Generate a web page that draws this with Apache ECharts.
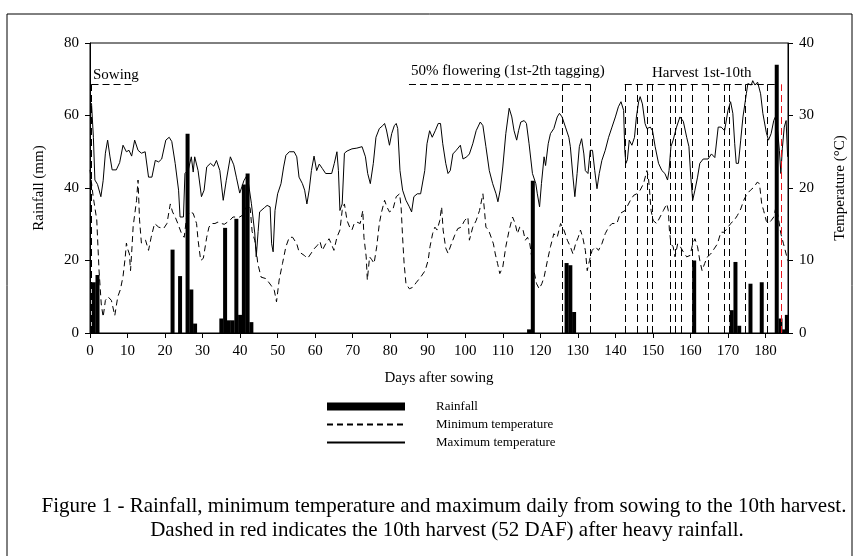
<!DOCTYPE html>
<html>
<head>
<meta charset="utf-8">
<script src="https://cdn.jsdelivr.net/npm/echarts@6/dist/echarts.min.js"></script>
<style>
  html, body { margin: 0; padding: 0; background: #fff; }
  #main { width: 856px; height: 556px; }
</style>
</head>
<body>
<div id="main"></div>
<script>
var serif = 'Liberation Serif';

// rainfall bars (day after sowing, mm)
var rainDays = [1, 2, 22, 24, 26, 27, 28, 35, 36, 37, 38, 39, 40, 41, 42, 43,
  117, 118, 127, 128, 129, 161, 171, 172, 173, 176, 179, 183, 184, 185, 185.7];
var rainMm = [14, 16, 23, 15.7, 55, 12, 2.6, 4, 29, 3.5, 3.5, 31.5, 5, 41, 44, 3,
  1, 42, 19.3, 18.7, 5.8, 20, 6.3, 19.6, 2, 13.6, 14, 74, 4, 1, 5];

// maximum temperature (day, °C)
var maxDays = [0.4, 0.9, 1.3, 2, 2.9, 3.5, 4.1, 4.7, 5.3, 5.9, 7, 7.9, 8.8, 9.7, 10.4, 11.1, 11.9, 12.8, 13.7, 14.7,
  15.6, 16.5, 17.4, 18.3, 19.1, 20.2, 21.1, 21.8, 22.7, 23.6, 24, 24.9, 25.3, 26.2, 27, 27.5, 27.9, 28.8, 29.7, 30.4,
  31.1, 32.1, 33, 33.7, 34.6, 35.5, 36.3, 37.4, 38.3, 39, 39.9, 40.5, 41, 41.9, 42.4, 43, 43.9, 44.3, 44.8, 45.2,
  46.5, 47.2, 48, 48.4, 48.8, 49.3, 50, 50.9, 51.6, 52.2, 53.1, 54.4, 55.1, 55.7, 56.6, 57.2, 57.8, 58.4, 59, 59.7,
  60.4, 61.1, 61.9, 62.8, 64.4, 65.1, 65.8, 66.2, 66.6, 67.2, 67.8, 68.5, 69.8, 71.1, 72.5, 73, 73.4, 74, 74.7, 75.1,
  75.5, 76.2, 77.1, 78, 78.5, 79, 79.8, 80.4, 81.1, 81.6, 82, 82.6, 83.3, 84.2, 85.1, 85.7, 86.3, 87.2, 88.1, 88.5,
  89.2, 89.8, 90.5, 91.2, 92, 92.8, 93.4, 94, 94.8, 95.4, 96, 96.7, 97.6, 98.7, 99.4, 100.4, 101.1, 102, 102.9, 104,
  104.7, 105.5, 106.4, 107.3, 108.2, 108.7, 109.3, 110, 110.8, 111.7, 112.4, 113, 113.7, 114.2, 114.8, 115.7, 116.3, 117, 117.9, 118.8,
  119.2, 119.8, 120.3, 121, 121.4, 122.1, 122.7, 123.6, 124.5, 125.1, 125.8, 126.7, 127.6, 128, 128.7, 129.2, 129.8, 130.4, 131, 131.6,
  132, 132.7, 133.3, 133.9, 134.5, 135.1, 135.7, 136.4, 137.3, 138.2, 139.1, 140, 140.8, 141.5, 142.2, 142.5, 142.8, 143.2, 143.7, 144.4,
  145.1, 145.6, 146.2, 146.6, 147.2, 147.9, 148.4, 149.3, 149.9, 150.6, 151.5, 152.4, 153.2, 153.9, 154.3, 154.8, 155.4, 156.3, 157.2, 158.1,
  159, 159.6, 160.1, 160.6, 161.2, 161.9, 162.5, 163.4, 164.7, 165.6, 166.5, 167.4, 168.2, 169.1, 170, 170.7, 171.3, 171.8, 172.2, 172.8,
  173.4, 174, 174.9, 175.3, 176.2, 176.6, 177.2, 177.9, 178.7, 179.3, 180.2, 180.8, 181.5, 182.2, 182.8, 183.3, 183.7, 184.1, 184.5, 185,
  185.5, 185.9];
var maxTemp = [31.7, 27, 21.1, 20.5, 18.8, 21, 24.8, 26.6, 24.4, 22.5, 22.5, 23.5, 25.9, 25, 25.2, 24.4, 26.6, 25.2, 24.8, 25,
  21.5, 21.5, 23.8, 23.6, 24, 26.6, 27, 26.4, 23.4, 19.7, 16, 16, 22, 22.5, 24.3, 22.2, 24.3, 22.4, 18.8, 19.7,
  22.9, 23.4, 23, 23.8, 22.4, 18.3, 21, 24.3, 23.2, 21.5, 19.3, 20.2, 21, 21.8, 22, 17.9, 13.8, 10.5, 14, 16.7,
  17.3, 17.6, 17.4, 12.3, 11.2, 16.9, 19.2, 20.6, 22.9, 24.5, 25, 25, 24.3, 21.5, 20.6, 19.7, 17.8, 19.7, 22.4, 24.4,
  22.4, 23.3, 22.7, 22, 22, 23.4, 25, 22.4, 16.9, 17.8, 24.8, 25.1, 25.4, 25.5, 25.7, 25.9, 24.3, 22, 20.6, 20.8,
  23.4, 27, 28.2, 28.6, 28.9, 28, 25.9, 27.5, 28.6, 28.9, 28.2, 22.4, 19.7, 18.3, 17.4, 16.7, 18.8, 19.2, 19.2, 19.4,
  22.4, 26.1, 27.9, 27, 27.9, 28.9, 28.9, 26.1, 23.4, 22, 22.4, 24.7, 25.2, 25.9, 24, 24.3, 24.7, 26.1, 27.9, 29.1,
  28.6, 25.7, 22.4, 20.6, 19.2, 18.1, 19.7, 22.9, 27.5, 31, 29.8, 27.9, 26.6, 27.9, 29.1, 29.3, 28.9, 26.1, 22, 20.6,
  19.2, 17.4, 20.6, 24.3, 23.1, 26.1, 27.5, 28.2, 29.8, 30.3, 29.8, 28.4, 27, 25.7, 21.5, 18.8, 22, 25.7, 26.8, 24.7,
  22.4, 22, 25.2, 25.2, 22.4, 19.9, 22, 23.8, 25.2, 27, 28.4, 29.8, 31.2, 31.9, 30.7, 25.2, 23.4, 23.9, 26.6, 25.9,
  27, 29.8, 31.9, 32.6, 31.6, 28.9, 28.2, 28.4, 27.9, 25.7, 23.4, 22.4, 22, 21.1, 22.4, 25.7, 26.6, 28.4, 29.8, 29.2,
  27, 25.7, 21.5, 18.3, 19.7, 21.5, 23.4, 24, 24, 24.7, 24.2, 28.4, 28.4, 27.9, 30.7, 31.9, 30.3, 26.1, 23.4, 23.4,
  26.6, 29.8, 33, 34.4, 34.2, 34.8, 34.2, 34.6, 33, 30.3, 27.7, 26.6, 27.5, 29.3, 30, 27.5, 25.2, 22, 25.5, 28.4,
  29.3, 24.3];

// minimum temperature (day, °C)
var minDays = [0, 0.8, 1.8, 2.4, 3, 3.5, 4.1, 4.8, 5.7, 6.6, 7.4, 8.1, 8.8, 9.4, 9.7, 10.1, 10.5, 10.8, 11.2, 11.5,
  12.4, 12.8, 13.2, 13.7, 14, 14.8, 15.6, 16.3, 17.2, 18.3, 19.6, 20.5, 21.4, 22, 22.7, 23.4, 24.4, 25.1, 25.7, 26.6,
  27.5, 28.4, 28.8, 29.5, 30.2, 31.1, 31.7, 32.4, 33.3, 34.1, 35, 35.8, 37.2, 38.1, 39, 39.9, 40.5, 41.2, 42.1, 42.7,
  43.2, 43.9, 44.3, 44.7, 45.6, 46.9, 48.2, 49.1, 49.7, 50.4, 51.3, 52.2, 53.1, 54, 55.1, 55.7, 57.1, 58, 58.8, 59.7,
  60.6, 61.3, 61.9, 62.8, 63.7, 64.3, 65, 65.8, 66.6, 67.2, 67.8, 68.5, 69.2, 69.8, 70.4, 71.1, 72, 72.7, 73, 73.6,
  73.9, 74.5, 75.1, 75.7, 76.4, 77.1, 77.7, 78.5, 79.1, 79.8, 80.7, 81.6, 82.5, 82.9, 83.3, 83.7, 84.2, 85.1, 86, 87,
  88.1, 89.3, 90.1, 90.6, 91.3, 91.9, 92.5, 93.2, 93.7, 94.1, 94.8, 95.4, 96.3, 97.2, 98, 98.9, 99.8, 100.7, 101.1, 102,
  102.9, 103.8, 104.7, 105.1, 105.5, 106.2, 106.9, 107.5, 108, 108.6, 109.2, 110, 110.8, 111.7, 112.6, 113.3, 113.9, 114.5, 115.4, 116,
  116.6, 117.2, 117.7, 118.3, 119, 119.7, 120.4, 121, 121.9, 122.7, 123.6, 124.5, 125.4, 126.3, 127.2, 128, 128.7, 129.4, 130.1, 130.7,
  131.3, 132, 132.5, 133.1, 133.8, 134.7, 135.5, 136.4, 137.3, 138.2, 139.1, 140.4, 141.3, 142.6, 144, 144.9, 145.7, 146.6, 147.5, 148.4,
  148.8, 149.1, 149.5, 150.1, 151, 151.9, 152.8, 153.7, 154.1, 154.4, 154.8, 155.4, 155.9, 156.6, 157.3, 158.1, 159, 159.9, 160.6, 161.2,
  161.9, 162.5, 163.1, 163.8, 164.5, 165.4, 166.3, 167.2, 168.1, 168.9, 169.8, 170.7, 171.6, 172.5, 173.4, 174.2, 175.1, 176, 176.9, 177.8,
  178.4, 179, 179.5, 180.2, 180.8, 181.5, 182.2, 182.8, 183.4, 184.1, 184.8, 185.5, 185.9];
var minTemp = [22.5, 19, 15.6, 8.7, 4, 2.2, 4.5, 5, 4.5, 2.4, 5, 6, 7.8, 10.5, 12.4, 11.5, 10.9, 8.6, 11.9, 14.7,
  18.3, 21.1, 15.6, 12.4, 12.3, 12.8, 11.4, 13.2, 15.1, 14.6, 14.4, 15.1, 17.8, 16.7, 16, 15.1, 13.7, 13.2, 15.8, 16.7,
  16.5, 15.1, 12.8, 10, 10.3, 13.2, 14.6, 15.1, 15.1, 15.3, 15.1, 15, 15.5, 16, 16, 16, 16.2, 16.9, 17.8, 17.2,
  14, 12.8, 11.5, 9.6, 7.7, 7.5, 6.6, 5.9, 4.3, 7.3, 9.6, 11.9, 13.2, 13.2, 12.3, 11.2, 10.7, 10.3, 10.9, 11.6,
  12.1, 12.6, 11.4, 12.3, 13, 12.3, 11.4, 13.2, 14.2, 16.9, 17.8, 15.5, 14.6, 14.2, 15.1, 15.3, 15.1, 16.9, 13.2, 10.5,
  7.3, 10.5, 10.1, 9.6, 11.9, 15.1, 16.7, 18.3, 17.4, 16.7, 17, 18.8, 19.2, 17.4, 13.2, 9.6, 6.8, 6.1, 6.3, 7,
  7.7, 8.6, 10, 11.9, 13.7, 14.6, 14.2, 15.5, 17.4, 14.2, 11.7, 11, 12.3, 13.5, 14.4, 14.6, 15.5, 16, 12.8, 14.6,
  15.5, 16.9, 19.2, 17, 14.6, 14.2, 13.2, 12.3, 10.9, 9.6, 8.2, 9.1, 11.9, 14.2, 16, 15.1, 13.7, 14.6, 14.2, 12.8,
  13.2, 12.3, 10.5, 8.6, 6.8, 6.1, 6.8, 7.7, 10, 11.9, 13.7, 13.2, 15.1, 14.2, 12.8, 11.9, 10.9, 12.3, 13.2, 14.2,
  13.2, 11.4, 8.6, 10, 11.4, 11.9, 11.4, 12.3, 13.7, 14.6, 15.1, 15.1, 16.5, 16.9, 18.3, 19, 19.2, 19.7, 20.6, 22.4,
  21.5, 19.7, 16.9, 15.5, 15.1, 16, 16.9, 17.8, 16.9, 14.2, 12.3, 11.9, 10.5, 12.3, 11.9, 11.2, 10.5, 10.7, 12.3, 13,
  11.9, 10, 8.6, 9.6, 10.5, 10.9, 11.6, 12.3, 13.9, 13.9, 14.4, 15.1, 15.5, 16.2, 17.1, 18.3, 19.2, 19.7, 20.1, 20.8,
  20.6, 17.8, 16.9, 15.5, 15.1, 15.5, 16, 17.4, 16, 13.7, 12.3, 10.9, 10];

// stage markers (days after sowing)
var sowingDays = [0.4];
var floweringDays = [125.9, 133.4];
var harvestDays = [142.5, 145.8, 148.4, 149.7, 154.6, 155.9, 157.5, 160.6, 164.7, 169.1, 170.4, 174.6, 180.6];
var heavyRainHarvestDay = 184.1;
var bracketTemp = 34.3;
var sowingSpan = [0.4, 11.6];
var floweringSpan = [85, 133.4];
var harvestSpan = [142.5, 183.2];

function pairs(xs, ys) {
  return xs.map(function (x, i) { return [x, ys[i]]; });
}

var markLines = [];
sowingDays.concat(floweringDays, harvestDays).forEach(function (d) {
  markLines.push([{ coord: [d, 0] }, { coord: [d, bracketTemp] }]);
});
[sowingSpan, floweringSpan, harvestSpan].forEach(function (s) {
  markLines.push([{ coord: [s[0], bracketTemp] }, { coord: [s[1], bracketTemp] }]);
});
markLines.push([{ coord: [heavyRainHarvestDay, 0], lineStyle: { color: '#e8141b' } },
  { coord: [heavyRainHarvestDay, bracketTemp] }]);

var txt = { fontFamily: serif, color: '#000' };
var nameTxt = { fontFamily: serif, fontSize: 15, color: '#000' };

var myChart = echarts.init(document.getElementById('main'));
var option = {
  animation: false,
  backgroundColor: '#fff',
  grid: { left: 90, right: 62, top: 43, bottom: 223, show: true, borderColor: '#000', borderWidth: 1 },
  legend: {
    orient: 'vertical', left: 321, top: 395,
    itemWidth: 78, itemHeight: 8, itemGap: 5,
    selectedMode: false,
    data: [
      { name: 'Rainfall', icon: 'rect' },
      { name: 'Minimum temperature', itemStyle: { opacity: 0 } },
      { name: 'Maximum temperature', itemStyle: { opacity: 0 } }
    ],
    textStyle: { fontFamily: serif, fontSize: 13, color: '#000', padding: [0, 0, 0, 26] }
  },
  xAxis: {
    type: 'value', min: 0, max: 186, interval: 10,
    name: 'Days after sowing', nameLocation: 'middle', nameGap: 38,
    nameTextStyle: nameTxt,
    axisLine: { lineStyle: { color: '#000' } },
    axisTick: { length: 5, lineStyle: { color: '#000' } },
    axisLabel: Object.assign({ fontSize: 15, margin: 11, showMaxLabel: false }, txt),
    splitLine: { show: false }
  },
  yAxis: [
    {
      type: 'value', min: 0, max: 80, interval: 20,
      name: 'Rainfall (mm)', nameLocation: 'middle', nameGap: 43, nameRotate: 90,
      nameTextStyle: nameTxt,
      axisLine: { show: true, lineStyle: { color: '#000' } },
      axisTick: { show: true, length: 5, lineStyle: { color: '#000' } },
      axisLabel: Object.assign({ fontSize: 15, margin: 11 }, txt),
      splitLine: { show: false }
    },
    {
      type: 'value', min: 0, max: 40, interval: 10, position: 'right',
      name: 'Temperature (°C)', nameLocation: 'middle', nameGap: 45, nameRotate: 90,
      nameTextStyle: nameTxt,
      axisLine: { show: true, lineStyle: { color: '#000' } },
      axisTick: { show: true, length: 5, lineStyle: { color: '#000' } },
      axisLabel: Object.assign({ fontSize: 15, margin: 11 }, txt),
      splitLine: { show: false }
    }
  ],
  series: [
    {
      name: 'Rainfall', type: 'bar', yAxisIndex: 0,
      barWidth: 4, itemStyle: { color: '#000' },
      data: pairs(rainDays, rainMm)
    },
    {
      name: 'Minimum temperature', type: 'line', yAxisIndex: 1,
      symbol: 'none', lineStyle: { color: '#000', width: 1, type: [6, 4] },
      itemStyle: { color: '#000' },
      data: pairs(minDays, minTemp)
    },
    {
      name: 'Maximum temperature', type: 'line', yAxisIndex: 1,
      symbol: 'none', lineStyle: { color: '#000', width: 1 },
      itemStyle: { color: '#000' },
      data: pairs(maxDays, maxTemp)
    },
    {
      name: 'markers', type: 'line', yAxisIndex: 1, data: [],
      markLine: {
        silent: true, symbol: ['none', 'none'],
        label: { show: false },
        lineStyle: { color: '#000', width: 1, type: [7, 4] },
        data: markLines
      }
    }
  ],
  graphic: [
    { type: 'rect', shape: { x: 7, y: 14, width: 845, height: 600 }, style: { fill: 'none', stroke: '#000', lineWidth: 1 }, silent: true },
    { type: 'text', left: 93, top: 68, style: { text: 'Sowing', font: '15px "Liberation Serif"', fill: '#000' } },
    { type: 'text', left: 411, top: 64, style: { text: '50% flowering (1st-2th tagging)', font: '15px "Liberation Serif"', fill: '#000' } },
    { type: 'text', left: 652, top: 66, style: { text: 'Harvest 1st-10th', font: '15px "Liberation Serif"', fill: '#000' } },
    { type: 'text', x: 444, y: 506, style: { text: 'Figure 1 - Rainfall, minimum temperature and maximum daily from sowing to the 10th harvest.', font: '21px "Liberation Serif"', fill: '#000', align: 'center', verticalAlign: 'middle' } },
    { type: 'text', x: 447, y: 530, style: { text: 'Dashed in red indicates the 10th harvest (52 DAF) after heavy rainfall.', font: '21px "Liberation Serif"', fill: '#000', align: 'center', verticalAlign: 'middle' } }
  ]
};
myChart.setOption(option);
</script>
</body>
</html>
